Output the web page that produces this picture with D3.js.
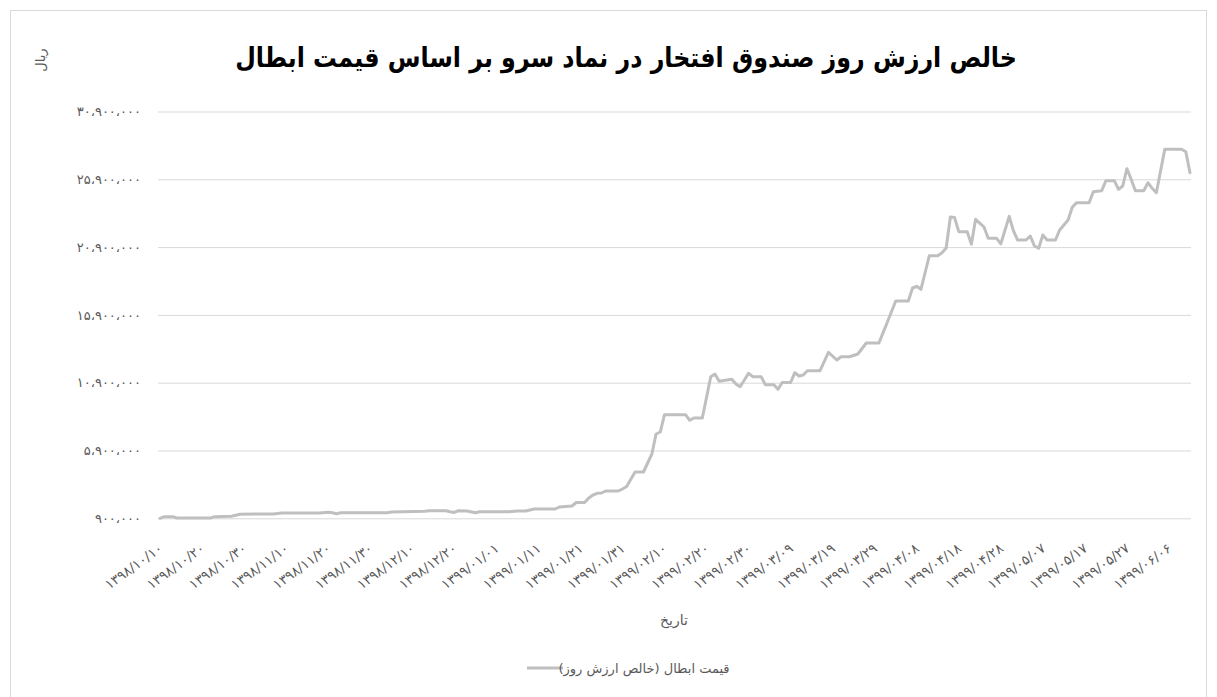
<!DOCTYPE html>
<html>
<head>
<meta charset="utf-8">
<script src="https://cdn.jsdelivr.net/npm/d3@7"></script>
<style>
  body { margin: 0; background: #fff; }
  text { font-family: "DejaVu Sans", sans-serif; }
</style>
</head>
<body>
<svg id="chart"></svg>
<script>
const width  = 1217
const height = 697

// day offsets counted from 1398/10/10, and net asset value (rial) on that day
const days = [0, 1, 3, 4, 12, 13, 17, 19, 27, 29, 38, 40, 41, 42, 43, 54, 55, 63, 64, 68,
  69, 70, 71, 73, 75, 76, 83, 85, 87, 89, 94, 95, 98, 99, 101, 102, 103, 104, 105, 106,
  109, 110, 111, 113, 115, 117, 118, 119, 120, 125, 126, 127, 129, 131, 132, 133, 136, 137, 138, 140,
  141, 143, 144, 146, 147, 148, 150, 151, 152, 153, 154, 157, 159, 161, 162, 164, 166, 168, 171, 172,
  173, 175, 178, 179, 180, 181, 182, 183, 185, 186, 187, 188, 189, 190, 192, 193, 194, 196, 197, 199,
  200, 202, 203, 204, 206, 207, 208, 209, 210, 211, 213, 214, 215, 216, 217, 218, 221, 222, 224, 225,
  227, 228, 229, 230, 231, 232, 234, 235, 236, 237, 239, 243, 244, 245]

const navValues = [900000, 1020000, 1020000, 920000, 920000, 1020000, 1050000, 1200000, 1220000, 1290000,
  1290000, 1340000, 1310000, 1240000, 1310000, 1310000, 1365000, 1416000, 1460000, 1460000,
  1387000, 1330000, 1460000, 1440000, 1313000, 1387000, 1387000, 1440000, 1440000, 1586000,
  1586000, 1733000, 1807000, 2065000, 2065000, 2397000, 2618000, 2744000, 2766000, 2913000,
  2913000, 3060000, 3245000, 4314000, 4314000, 5642000, 7117000, 7264000, 8540000, 8540000,
  8127000, 8297000, 8297000, 11342000, 11541000, 11003000, 11150000, 10804000, 10605000, 11593000,
  11342000, 11342000, 10753000, 10753000, 10413000, 10915000, 10915000, 11637000, 11394000, 11468000,
  11785000, 11785000, 13142000, 12574000, 12817000, 12817000, 13017000, 13828000, 13828000, 14588000,
  15362000, 16925000, 16925000, 17884000, 18009000, 17788000, 19027000, 20266000, 20266000, 20480000,
  20834000, 23120000, 23076000, 22036000, 22036000, 21114000, 22950000, 22382000, 21549000, 21549000,
  21143000, 23164000, 22102000, 21423000, 21423000, 21718000, 20981000, 20811000, 21792000, 21423000,
  21423000, 22161000, 22530000, 22898000, 23835000, 24174000, 24174000, 24985000, 25059000, 25797000,
  25797000, 25162000, 25406000, 26682000, 25900000, 25059000, 25059000, 25649000, 25236000, 24912000,
  28112000, 28112000, 27935000, 26387000]

const yTicks = [900000, 5900000, 10900000, 15900000, 20900000, 25900000, 30900000]

const xTickDays = [0, 10, 20, 30, 40, 50, 60, 70, 80, 90, 100, 110, 120, 130, 140, 150,
  160, 170, 180, 190, 200, 210, 220, 230, 240]
const xTickLabels = ["۱۳۹۸/۱۰/۱۰", "۱۳۹۸/۱۰/۲۰", "۱۳۹۸/۱۰/۳۰", "۱۳۹۸/۱۱/۱۰", "۱۳۹۸/۱۱/۲۰",
  "۱۳۹۸/۱۱/۳۰", "۱۳۹۸/۱۲/۱۰", "۱۳۹۸/۱۲/۲۰", "۱۳۹۹/۰۱/۰۱", "۱۳۹۹/۰۱/۱۱", "۱۳۹۹/۰۱/۲۱",
  "۱۳۹۹/۰۱/۳۱", "۱۳۹۹/۰۲/۱۰", "۱۳۹۹/۰۲/۲۰", "۱۳۹۹/۰۲/۳۰", "۱۳۹۹/۰۳/۰۹", "۱۳۹۹/۰۳/۱۹",
  "۱۳۹۹/۰۳/۲۹", "۱۳۹۹/۰۴/۰۸", "۱۳۹۹/۰۴/۱۸", "۱۳۹۹/۰۴/۲۸", "۱۳۹۹/۰۵/۰۷", "۱۳۹۹/۰۵/۱۷",
  "۱۳۹۹/۰۵/۲۷", "۱۳۹۹/۰۶/۰۶"]

const titleText  = "خالص ارزش روز صندوق افتخار در نماد سرو بر اساس قیمت ابطال"
const yUnitText  = "ریال"
const xTitleText = "تاریخ"
const seriesName = "قیمت ابطال (خالص ارزش روز)"

const faDigits = "۰۱۲۳۴۵۶۷۸۹"
const toPersian = s => String(s).replace(/[0-9]/g, d => faDigits[+d]).replace(/,/g, "،")

const gridColor = "#d9d9d9"
const textColor = "#595959"
const lineColor = "#bfbfbf"

const plot = { left: 158, right: 1191, top: 111.5, bottom: 518.3 }

let svg = d3.select("#chart")
            .attr("width", width)
            .attr("height", height)

// chart frame
svg.append("rect")
   .attr("x", 10.5).attr("y", 10.5)
   .attr("width", 1196).attr("height", 700)
   .attr("fill", "#fff")
   .attr("stroke", gridColor)

const x = d3.scaleLinear().domain([0, 245]).range([160, 1190])
const y = d3.scaleLinear().domain([900000, 30900000]).range([plot.bottom, plot.top])

// gridlines + y labels
const yAxis = svg.append("g")
    .attr("transform", `translate(${plot.left},0)`)
    .call(d3.axisLeft(y)
        .tickValues(yTicks)
        .tickSize(-(plot.right - plot.left))
        .tickPadding(17)
        .tickFormat(d => toPersian(d3.format(",")(d))))
yAxis.select(".domain").remove()
yAxis.selectAll(".tick line").attr("stroke", gridColor)
yAxis.selectAll(".tick text")
     .attr("fill", textColor)
     .style("font-size", "13px")
     .style("letter-spacing", "0.9px")

// x labels, slanted
const xAxis = svg.append("g")
    .attr("transform", `translate(0,${plot.bottom})`)
    .call(d3.axisBottom(x)
        .tickValues(xTickDays)
        .tickSize(0)
        .tickFormat((d, i) => xTickLabels[i]))
xAxis.select(".domain").remove()
xAxis.selectAll(".tick text")
     .attr("fill", textColor)
     .style("font-size", "13.5px")
     .style("letter-spacing", "0.5px")
     .attr("direction", "ltr")
     .attr("text-anchor", "end")
     .attr("dy", null)
     .attr("y", 0)
     .attr("transform", "translate(3,32) rotate(-36)")

// the series line
const line = d3.line()
    .x((d, i) => x(days[i]))
    .y(d => y(d))

svg.append("path")
   .datum(navValues)
   .attr("d", line)
   .attr("fill", "none")
   .attr("stroke", lineColor)
   .attr("stroke-width", 3)
   .attr("stroke-linejoin", "round")
   .attr("stroke-linecap", "round")

// title (narrowed to match the condensed bold face)
svg.append("text")
   .attr("transform", "translate(626,67) scale(0.88,1)")
   .attr("text-anchor", "middle")
   .attr("direction", "rtl")
   .style("font-size", "27px")
   .style("font-weight", "bold")
   .attr("fill", "#000")
   .text(titleText)

// y unit
svg.append("text")
   .attr("transform", "translate(45,60) rotate(-90)")
   .attr("text-anchor", "middle")
   .attr("direction", "rtl")
   .style("font-size", "13px")
   .attr("fill", textColor)
   .text(yUnitText)

// x title
svg.append("text")
   .attr("x", 674).attr("y", 625)
   .attr("text-anchor", "middle")
   .attr("direction", "rtl")
   .style("font-size", "14px")
   .attr("fill", textColor)
   .text(xTitleText)

// legend
svg.append("line")
   .attr("x1", 527).attr("x2", 563)
   .attr("y1", 668).attr("y2", 668)
   .attr("stroke", lineColor)
   .attr("stroke-width", 3)

svg.append("text")
   .attr("x", 644).attr("y", 673)
   .attr("text-anchor", "middle")
   .attr("direction", "rtl")
   .style("font-size", "13px")
   .attr("fill", textColor)
   .text(seriesName)
</script>
</body>
</html>
